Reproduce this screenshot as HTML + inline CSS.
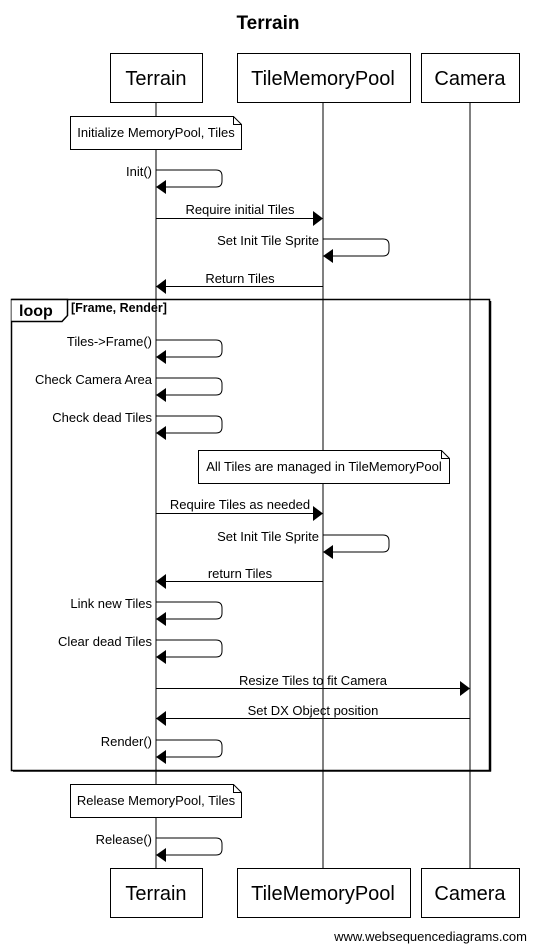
<!DOCTYPE html>
<html><head><meta charset="utf-8"><style>
html,body{margin:0;padding:0;background:#fff;}
svg{display:block;font-family:"Liberation Sans",Arial,sans-serif;}
</style></head><body>
<svg width="535" height="951" viewBox="0 0 535 951" xmlns="http://www.w3.org/2000/svg">
<text x="268" y="29" text-anchor="middle" font-size="19" font-weight="bold">Terrain</text>
<g stroke="#000" stroke-width="1" fill="none">
<line x1="156" y1="102" x2="156" y2="868"/>
<line x1="323" y1="102" x2="323" y2="868"/>
<line x1="470" y1="102" x2="470" y2="868"/>
</g>
<g stroke="#000" stroke-width="1" fill="#fff">
<rect x="110.5" y="53.5" width="92" height="49"/>
<rect x="237.5" y="53.5" width="173" height="49"/>
<rect x="421.5" y="53.5" width="98" height="49"/>
<rect x="110.5" y="868.5" width="92" height="49"/>
<rect x="237.5" y="868.5" width="173" height="49"/>
<rect x="421.5" y="868.5" width="98" height="49"/>
</g>
<g font-size="20" text-anchor="middle">
<text x="156" y="85">Terrain</text><text x="323" y="85">TileMemoryPool</text><text x="470" y="85">Camera</text>
<text x="156" y="900">Terrain</text><text x="323" y="900">TileMemoryPool</text><text x="470" y="900">Camera</text>
</g>
<g stroke="#000" fill="#fff">
<path d="M70.5 116.5 H233.5 L241.5 124.5 V149.5 H70.5 Z"/><path d="M233.5 116.5 V124.5 H241.5" fill="none"/>
<path d="M198.5 450.5 H441.5 L449.5 458.5 V483.5 H198.5 Z"/><path d="M441.5 450.5 V458.5 H449.5" fill="none"/>
<path d="M70.5 784.5 H233.5 L241.5 792.5 V817.5 H70.5 Z"/><path d="M233.5 784.5 V792.5 H241.5" fill="none"/>
</g>
<g font-size="13" text-anchor="middle">
<text x="156" y="137">Initialize MemoryPool, Tiles</text>
<text x="324" y="471">All Tiles are managed in TileMemoryPool</text>
<text x="156" y="805">Release MemoryPool, Tiles</text>
</g>
<rect x="11.5" y="299.5" width="478" height="471" fill="none" stroke="#000" stroke-width="1.5"/>
<line x1="490.5" y1="301" x2="490.5" y2="771.5" stroke="#000" stroke-width="1.5"/>
<line x1="13" y1="771" x2="491" y2="771" stroke="#000" stroke-width="1.5"/>
<path d="M11.5 299.5 H67.5 V315.5 L62 321.5 H11.5" fill="#fff" stroke="#000" stroke-width="1.5"/>
<text x="19" y="316" font-size="16" font-weight="bold">loop</text>
<text x="71" y="312" font-size="12.5" font-weight="bold">[Frame, Render]</text>
<defs>
<g id="self"><path d="M0 0 H60 Q66 0 66 6 V11 Q66 17 60 17 H9" fill="none" stroke="#000"/><polygon points="0,17 10,10 10,24" fill="#000"/></g>
</defs>
<g font-size="13">
<use href="#self" x="156" y="170"/><text x="152" y="176" text-anchor="end">Init()</text>
<use href="#self" x="323" y="239"/><text x="319" y="245" text-anchor="end">Set Init Tile Sprite</text>
<use href="#self" x="156" y="340"/><text x="152" y="346" text-anchor="end">Tiles-&gt;Frame()</text>
<use href="#self" x="156" y="378"/><text x="152" y="384" text-anchor="end">Check Camera Area</text>
<use href="#self" x="156" y="416"/><text x="152" y="422" text-anchor="end">Check dead Tiles</text>
<use href="#self" x="323" y="535"/><text x="319" y="541" text-anchor="end">Set Init Tile Sprite</text>
<use href="#self" x="156" y="602"/><text x="152" y="608" text-anchor="end">Link new Tiles</text>
<use href="#self" x="156" y="640"/><text x="152" y="646" text-anchor="end">Clear dead Tiles</text>
<use href="#self" x="156" y="740"/><text x="152" y="746" text-anchor="end">Render()</text>
<use href="#self" x="156" y="838"/><text x="152" y="844" text-anchor="end">Release()</text>
</g>
<g stroke="#000">
<line x1="156" y1="218.5" x2="314" y2="218.5"/>
<line x1="166" y1="286.5" x2="323" y2="286.5"/>
<line x1="156" y1="513.5" x2="314" y2="513.5"/>
<line x1="166" y1="581.5" x2="323" y2="581.5"/>
<line x1="156" y1="688.5" x2="461" y2="688.5"/>
<line x1="166" y1="718.5" x2="470" y2="718.5"/>
</g>
<g fill="#000">
<polygon points="323,218.5 313,211 313,226"/>
<polygon points="156,286.5 166,279 166,294"/>
<polygon points="323,513.5 313,506 313,521"/>
<polygon points="156,581.5 166,574 166,589"/>
<polygon points="470,688.5 460,681 460,696"/>
<polygon points="156,718.5 166,711 166,726"/>
</g>
<g font-size="13" text-anchor="middle">
<text x="240" y="214">Require initial Tiles</text>
<text x="240" y="283">Return Tiles</text>
<text x="240" y="509">Require Tiles as needed</text>
<text x="240" y="578">return Tiles</text>
<text x="313" y="685">Resize Tiles to fit Camera</text>
<text x="313" y="715">Set DX Object position</text>
</g>
<text x="527" y="941" font-size="13" text-anchor="end">www.websequencediagrams.com</text>
</svg>
</body></html>
